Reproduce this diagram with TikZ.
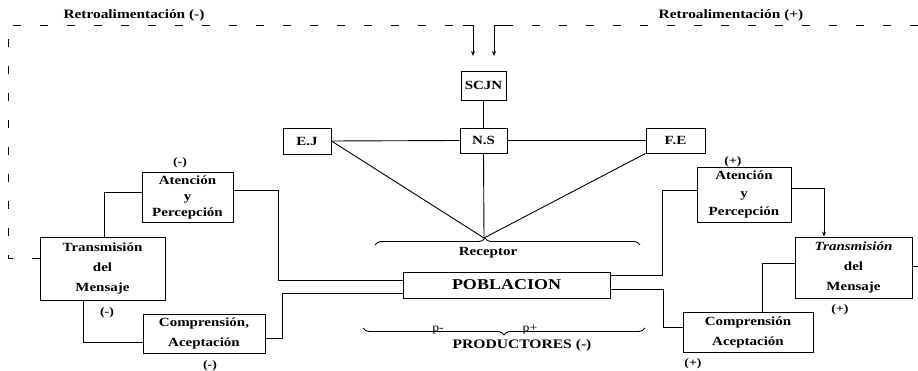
\documentclass[tikz,border=0pt]{standalone}
\usepackage{fontspec}
\setmainfont{Liberation Serif}[FakeStretch=1.2]
\usetikzlibrary{arrows.meta,decorations.pathreplacing}
\begin{document}
\begin{tikzpicture}[x=1pt,y=-1pt,
  box/.style={draw, line width=0.9pt, inner sep=0pt, align=center,
    font=\bfseries\fontsize{12.5}{16}\selectfont},
  lab/.style={inner sep=0pt, font=\bfseries\fontsize{11.5}{13}\selectfont},
  ln/.style={line width=0.9pt},
  fb/.style={line width=0.9pt, dash pattern=on 8pt off 19pt},
  arr/.style={-{Stealth[length=5pt,width=4pt]}},
  brc/.style={line width=0.9pt, decorate, decoration={brace, amplitude=7pt}}]
\useasboundingbox (0,0) rectangle (918,371);

% central nodes
\node[box, minimum width=45, minimum height=29] (scjn) at (483.5,85.5) {SCJN};
\node[box, minimum width=47, minimum height=25] (ns) at (483.5,140.5) {N.S};
\node[box, minimum width=48, minimum height=26] (ej) at (307,141) {E.J};
\node[box, minimum width=59, minimum height=25] (fe) at (675.5,140.5) {F.E};
\node[box, minimum width=207, minimum height=26, font=\bfseries\fontsize{15}{16}\selectfont] (pob) at (506.5,285) {POBLACION};

% left nodes
\node[box, minimum width=91, minimum height=50] (atl) at (187.5,197) {Atención\\y\\Percepción};
\node[box, minimum width=125, minimum height=63, font=\bfseries\fontsize{12.5}{20}\selectfont] (trl) at (102.5,268.5) {Transmisión\\del\\Mensaje};
\node[box, minimum width=122, minimum height=39, font=\bfseries\fontsize{12.5}{20}\selectfont] (col) at (204,333.5) {Comprensión,\\Aceptación};

% right nodes
\node[box, minimum width=94, minimum height=55, font=\bfseries\fontsize{12.5}{18}\selectfont] (atr) at (744,194.5) {Atención\\y\\Percepción};
\node[box, minimum width=117, minimum height=61, font=\bfseries\fontsize{12.5}{20}\selectfont] (trr) at (853.5,267.5) {\textit{Transmisión}\\del\\Mensaje};
\node[box, minimum width=130, minimum height=40, font=\bfseries\fontsize{12.5}{20}\selectfont] (cor) at (748,332) {Comprensión\\Aceptación};

% small labels
\node[lab] (ml1) at (180,163) {(-)};
\node[lab] (ml2) at (107,313) {(-)};
\node[lab] (ml3) at (210,366) {(-)};
\node[lab] (pl1) at (733,162) {(+)};
\node[lab] (pl2) at (840,310) {(+)};
\node[lab] (pl3) at (693,364) {(+)};

% titles
\node[lab, font=\bfseries\fontsize{12.8}{14}\selectfont] (tneg) at (134,15) {Retroalimentación (-)};
\node[lab, font=\bfseries\fontsize{12.8}{14}\selectfont] (tpos) at (731,15) {Retroalimentación (+)};

% braces
\coordinate (rb1) at (375,245);
\coordinate (rb2) at (640,245);
\draw[brc, decoration={aspect=0.415}] (rb1) -- (rb2);
\node[lab, font=\bfseries\fontsize{12.5}{13}\selectfont] (rec) at (488,253) {Receptor};
\coordinate (rtip) at (484,238);

\coordinate (pb1) at (645,328);
\coordinate (pb2) at (363,328);
\draw[brc] (pb1) -- (pb2);
\node[lab, font=\fontsize{11.5}{13}\selectfont, anchor=base] (pm) at (438,331) {p-};
\node[lab, font=\fontsize{11.5}{13}\selectfont, anchor=base] (pp) at (530,331) {p+};
\node[lab, font=\bfseries\fontsize{13}{14}\selectfont] (prod) at (522,345) {PRODUCTORES (-)};

% central connectors
\draw[ln] (scjn) -- (ns);
\draw[ln] (ej.east) -- (ns.west);
\draw[ln] (ns.east) -- (fe.west);
\draw[ln] (ej.east) -- (rtip);
\draw[ln] (ns.south) -- (rtip);
\draw[ln] (fe.south west) -- (rtip);

% feedback lines
\coordinate (fl) at (40,258);
\coordinate (cl) at (8,258);
\coordinate (ctl) at (8,25);
\coordinate (sl) at (463,25);
\coordinate (al) at (473,25);
\coordinate (ael) at (473,56);
\coordinate (ctr) at (918,25);
\coordinate (sr) at (507,25);
\coordinate (ar) at (494,25);
\coordinate (aer) at (494,56);
\draw[fb] (trl.west |- fl) -- (cl) -- (ctl) -- (sl);
\draw[ln, arr] (sl) -- (al) -- (ael);
\draw[fb] (ctr) -- (sr);
\draw[ln, arr] (sr) -- (ar) -- (aer);

% left connectors
\draw[ln] ([xshift=1.5pt]trl.north) |- ([yshift=5pt]atl.west);
\draw[ln] ([yshift=7pt]atl.east) -- ++(45,0) |- ([yshift=5pt]pob.west);
\draw[ln] ([xshift=-19.5pt]trl.south) |- ([yshift=-8.5pt]col.west);
\draw[ln] ([yshift=-4.5pt]col.east) -- ++(17,0) |- ([yshift=-8pt]pob.west);

% right connectors
\draw[ln] ([yshift=10pt]pob.east) -- ++(52,0) |- ([yshift=4.5pt]atr.west);
\draw[ln, arr] ([yshift=6.5pt]atr.east) -| ([xshift=-29.5pt]trr.north);
\draw[ln] ([yshift=4.5pt]trr.west) -| ([xshift=14pt]cor.north);
\draw[ln] ([yshift=-4pt]pob.east) -- ++(53,0) |- ([yshift=5pt]cor.west);
\coordinate (rend) at (918,266);
\draw[ln] (trr.east |- rend) -- (rend);
\end{tikzpicture}
\end{document}
